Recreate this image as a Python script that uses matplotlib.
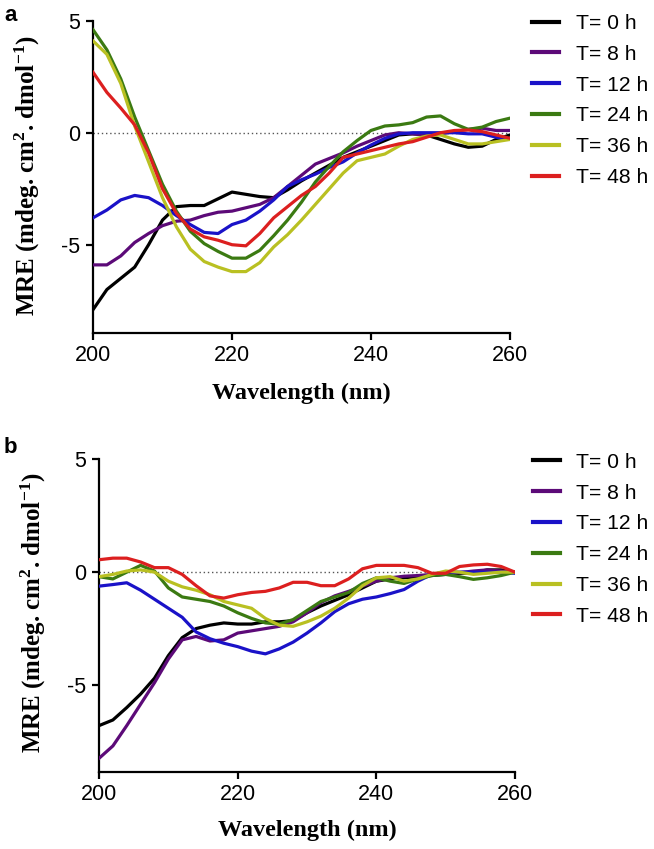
import numpy as np
import matplotlib
matplotlib.use("Agg")
import matplotlib.pyplot as plt

plt.rcParams['font.family'] = ['Liberation Sans', 'DejaVu Sans']
plt.rcParams['mathtext.fontset'] = 'custom'
plt.rcParams['mathtext.rm'] = 'Liberation Serif:bold'
plt.rcParams['mathtext.it'] = 'Liberation Serif:bold'
plt.rcParams['mathtext.bf'] = 'Liberation Serif:bold'

# wavelength grid (nm)
wl = np.arange(200, 261, 2)

labels = ["T= 0 h", "T= 8 h", "T= 12 h", "T= 24 h", "T= 36 h", "T= 48 h"]
colors = ["#000000", "#5c0a78", "#1a12c8", "#3b7a12", "#b9c022", "#dc1f1f"]

# panel a
a_0h = [-7.9, -7.0, -6.5, -6.0, -5.0, -3.9, -3.3, -3.25, -3.25, -2.95, -2.65, -2.75, -2.85, -2.9, -2.55, -2.15,
        -1.8, -1.45, -1.1, -0.85, -0.6, -0.35, -0.1, -0.05, -0.1, -0.3, -0.5, -0.65, -0.6, -0.3, -0.1]
a_8h = [-5.9, -5.9, -5.5, -4.9, -4.5, -4.15, -3.95, -3.9, -3.7, -3.55, -3.5, -3.35, -3.2, -2.9, -2.4, -1.9,
        -1.4, -1.15, -0.9, -0.6, -0.35, -0.1, 0.0, -0.05, -0.1, -0.05, 0.05, 0.15, 0.2, 0.1, 0.1]
a_12h = [-3.8, -3.45, -3.0, -2.8, -2.9, -3.25, -3.7, -4.1, -4.45, -4.5, -4.1, -3.9, -3.5, -3.0, -2.4, -2.1,
         -1.85, -1.55, -1.3, -0.9, -0.55, -0.25, -0.05, 0.0, 0.0, 0.0, 0.0, -0.05, -0.05, -0.2, -0.3]
a_24h = [4.6, 3.7, 2.4, 0.7, -0.8, -2.3, -3.5, -4.4, -4.95, -5.3, -5.6, -5.6, -5.25, -4.6, -3.9, -3.1,
         -2.2, -1.5, -0.85, -0.35, 0.1, 0.3, 0.35, 0.45, 0.7, 0.75, 0.4, 0.15, 0.25, 0.5, 0.65]
a_36h = [4.1, 3.5, 2.2, 0.3, -1.3, -2.9, -4.2, -5.2, -5.75, -6.0, -6.2, -6.2, -5.8, -5.1, -4.55, -3.9,
         -3.2, -2.5, -1.8, -1.25, -1.1, -0.95, -0.6, -0.3, -0.15, -0.1, -0.3, -0.5, -0.5, -0.4, -0.3]
a_48h = [2.7, 1.8, 1.1, 0.35, -0.9, -2.5, -3.6, -4.3, -4.65, -4.8, -5.0, -5.05, -4.5, -3.8, -3.3, -2.8,
         -2.4, -1.8, -1.1, -0.95, -0.8, -0.65, -0.5, -0.4, -0.2, 0.0, 0.1, 0.12, 0.05, -0.1, -0.25]

# panel b
b_0h = [-6.8, -6.55, -6.0, -5.4, -4.7, -3.7, -2.9, -2.5, -2.35, -2.25, -2.3, -2.3, -2.2, -2.2, -2.15, -1.8,
        -1.5, -1.25, -1.0, -0.7, -0.4, -0.3, -0.25, -0.2, -0.15, -0.1, -0.05, -0.03, 0.1, 0.1, 0.0]
b_8h = [-8.25, -7.7, -6.8, -5.85, -4.9, -3.85, -3.0, -2.85, -3.05, -3.0, -2.7, -2.6, -2.5, -2.4, -2.2, -1.8,
        -1.35, -1.05, -0.85, -0.62, -0.4, -0.25, -0.18, -0.15, -0.1, -0.05, -0.02, 0.05, 0.1, 0.05, 0.0]
b_12h = [-0.62, -0.55, -0.47, -0.8, -1.2, -1.6, -2.0, -2.65, -2.95, -3.15, -3.3, -3.5, -3.62, -3.4, -3.1, -2.7,
         -2.25, -1.75, -1.4, -1.2, -1.1, -0.95, -0.77, -0.4, -0.1, 0.0, 0.0, 0.0, 0.0, 0.0, -0.05]
b_24h = [-0.2, -0.3, 0.0, 0.3, 0.05, -0.7, -1.1, -1.2, -1.3, -1.5, -1.8, -2.05, -2.25, -2.3, -2.1, -1.7,
         -1.3, -1.1, -0.9, -0.5, -0.25, -0.4, -0.5, -0.3, -0.15, -0.1, -0.2, -0.32, -0.25, -0.15, 0.0]
b_36h = [-0.2, -0.1, 0.05, 0.1, 0.0, -0.4, -0.65, -0.8, -1.0, -1.3, -1.45, -1.6, -2.05, -2.35, -2.4, -2.2,
         -1.95, -1.6, -1.15, -0.6, -0.25, -0.2, -0.4, -0.3, -0.1, 0.05, 0.0, -0.1, -0.05, 0.0, 0.0]
b_48h = [0.55, 0.62, 0.62, 0.45, 0.2, 0.2, -0.1, -0.6, -1.05, -1.15, -1.0, -0.9, -0.85, -0.7, -0.45, -0.45,
         -0.6, -0.6, -0.3, 0.15, 0.3, 0.3, 0.3, 0.2, -0.05, -0.05, 0.25, 0.32, 0.35, 0.25, 0.0]

series_a = [a_0h, a_8h, a_12h, a_24h, a_36h, a_48h]
series_b = [b_0h, b_8h, b_12h, b_24h, b_36h, b_48h]

fig = plt.figure(figsize=(6.54, 8.49), dpi=100)
ax_a = fig.add_axes([0.1422, 0.6078, 0.6376, 0.3678])
ax_b = fig.add_axes([0.1514, 0.0911, 0.6361, 0.3679])

ylabel = "MRE (mdeg. cm$^{2}$. dmol$^{-1}$)"

panels = [(ax_a, series_a, -8.94, "a", 0.9945, 0.8135, 0.9835, 0.503, -0.195),
          (ax_b, series_b, -8.84, "b", 0.4855, 0.815, 0.4668, 0.508, -0.187)]

for ax, data, ybot, panel, py, lx, ly, ylab_y, xlab_y in panels:
    ax.axhline(0, color="#555555", ls=(0, (1, 2)), lw=1.0, zorder=1)
    for vals, c, lab in zip(data, colors, labels):
        ax.plot(wl, vals, color=c, lw=2.3, label=lab, solid_joinstyle="round", zorder=3)
    ax.set_xlim(200, 260)
    ax.set_ylim(ybot, 5)
    ax.set_xticks([200, 220, 240, 260])
    ax.set_yticks([-5, 0, 5])
    ax.set_yticklabels(["-5", "0", "5"])
    for s in ["top", "right"]:
        ax.spines[s].set_visible(False)
    for s in ["left", "bottom"]:
        ax.spines[s].set_linewidth(1.6)
    ax.tick_params(width=1.6, length=5, labelsize=15.5, pad=4)
    ax.set_xlabel("Wavelength (nm)", family="Liberation Serif", fontweight="bold", fontsize=17.5)
    ax.xaxis.label.set_va("center")
    ax.xaxis.set_label_coords(0.5, xlab_y)
    ax.set_ylabel(ylabel, family="Liberation Serif", fontweight="bold", fontsize=18)
    ax.yaxis.label.set_va("center")
    ax.yaxis.set_label_coords(-0.158, ylab_y)
    leg = ax.legend(loc="upper left", bbox_to_anchor=(lx, ly), bbox_transform=fig.transFigure,
                    frameon=False, fontsize=15.2, handlelength=1.26, handletextpad=0.8,
                    labelspacing=0.56, borderpad=0, borderaxespad=0)
    for h in leg.get_lines():
        h.set_linewidth(3.0)
    fig.text(0.006, py, panel, fontsize=16, fontweight="bold", va="top", ha="left")

fig.savefig("out.png", dpi=100)
